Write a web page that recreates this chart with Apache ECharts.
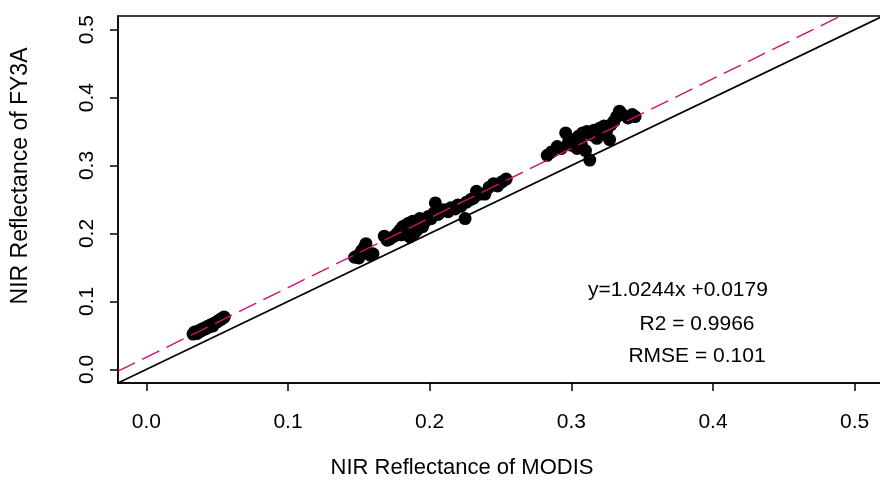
<!DOCTYPE html>
<html>
<head>
<meta charset="utf-8">
<script src="https://cdn.jsdelivr.net/npm/echarts@6/dist/echarts.min.js"></script>
<style>
  html, body { margin: 0; padding: 0; background: #fff; }
  #chart { width: 880px; height: 481px; }
</style>
</head>
<body>
<div id="chart"></div>
<script>
// NIR reflectance pairs: MODIS (x) against FY3A (y)
const modisNir = [
  0.033, 0.034, 0.036, 0.037, 0.038, 0.039, 0.040, 0.041, 0.042, 0.043, 0.044,
  0.045, 0.046, 0.047, 0.048, 0.049, 0.050, 0.051, 0.052, 0.053, 0.054, 0.055,
  0.147, 0.149, 0.150, 0.151, 0.152, 0.154, 0.155, 0.156, 0.158, 0.160,
  0.168, 0.170, 0.172, 0.175, 0.177, 0.179, 0.180, 0.181, 0.183, 0.184, 0.185,
  0.186, 0.187, 0.188, 0.189, 0.190, 0.191, 0.192, 0.193, 0.195, 0.197, 0.199,
  0.201, 0.203, 0.204, 0.206, 0.208, 0.210, 0.213, 0.215, 0.218, 0.220, 0.222,
  0.225, 0.226, 0.229, 0.231, 0.233, 0.236, 0.239, 0.242, 0.245, 0.248, 0.251, 0.254,
  0.283, 0.286, 0.290, 0.293, 0.296, 0.298, 0.300, 0.302, 0.304, 0.305, 0.307,
  0.308, 0.310, 0.311, 0.313, 0.314, 0.316, 0.318, 0.320, 0.322, 0.323, 0.325,
  0.327, 0.328, 0.330, 0.332, 0.334, 0.336, 0.340, 0.343, 0.345
];
const fy3aNir = [
  0.052, 0.055, 0.053, 0.057, 0.056, 0.059, 0.058, 0.061, 0.060, 0.063, 0.062,
  0.065, 0.066, 0.064, 0.068, 0.069, 0.070, 0.072, 0.073, 0.074, 0.076, 0.077,
  0.165, 0.167, 0.164, 0.170, 0.175, 0.180, 0.185, 0.172, 0.168, 0.170,
  0.196, 0.190, 0.192, 0.196, 0.200, 0.205, 0.198, 0.210, 0.212, 0.203, 0.215,
  0.195, 0.208, 0.218, 0.200, 0.212, 0.205, 0.215, 0.222, 0.210, 0.218, 0.225,
  0.222, 0.230, 0.245, 0.228, 0.233, 0.235, 0.232, 0.238, 0.236, 0.242, 0.240,
  0.222, 0.246, 0.250, 0.252, 0.262, 0.258, 0.258, 0.268, 0.273, 0.270, 0.276, 0.280,
  0.315, 0.320, 0.328, 0.325, 0.348, 0.335, 0.330, 0.338, 0.325, 0.343, 0.332,
  0.348, 0.322, 0.350, 0.308, 0.345, 0.352, 0.340, 0.355, 0.348, 0.358, 0.352,
  0.338, 0.360, 0.365, 0.372, 0.380, 0.375, 0.370, 0.375, 0.372
];

// Axis range and tick positions
const axisRange = [-0.02, 0.52];
const tickValues = [0.0, 0.1, 0.2, 0.3, 0.4, 0.5];

// Axis titles
const xTitle = 'NIR Reflectance of MODIS';
const yTitle = 'NIR Reflectance of FY3A';

// Fitted regression and the statistics printed on the plot
const fitSlope = 1.0244;
const fitIntercept = 0.0179;
const statLines = ['y=1.0244x +0.0179', 'R2 = 0.9966', 'RMSE = 0.101'];

const FONT = '"Liberation Sans", Arial, Helvetica, sans-serif';

const points = modisNir.map((x, i) => [x, fy3aNir[i]]);
const oneToOne = axisRange.map(v => [v, v]);
const fitLine = axisRange.map(v => [v, fitSlope * v + fitIntercept]);

function axisCommon(isY) {
  return {
    type: 'value',
    min: axisRange[0],
    max: axisRange[1],
    splitLine: { show: false },
    axisLine: { show: true, onZero: false, lineStyle: { color: '#000', width: 1.5 } },
    axisTick: {
      show: true, inside: false, length: 8,
      customValues: tickValues,
      lineStyle: { color: '#000', width: 1.5 }
    },
    axisLabel: {
      show: true,
      customValues: tickValues,
      formatter: v => v.toFixed(1),
      color: '#000',
      fontFamily: FONT,
      fontSize: 21,
      margin: isY ? 20 : 29,
      rotate: isY ? 90 : 0
    }
  };
}

function label(text, x, y, size, rotation) {
  return {
    type: 'text', x: x, y: y, rotation: rotation || 0,
    style: {
      text: text, fill: '#000', font: size + 'px ' + FONT,
      textAlign: 'center', textVerticalAlign: 'middle'
    }
  };
}

const chart = echarts.init(document.getElementById('chart'), null, { renderer: 'canvas' });

chart.setOption({
  animation: false,
  backgroundColor: '#fff',
  grid: {
    left: 118, top: 16, width: 765, height: 367,
    show: true, borderColor: '#000', borderWidth: 1.5,
    containLabel: false,
    outerBoundsMode: 'none'
  },
  xAxis: axisCommon(false),
  yAxis: axisCommon(true),
  series: [
    {
      type: 'scatter',
      data: points,
      symbol: 'circle',
      symbolSize: 13,
      itemStyle: { color: '#000', opacity: 1 },
      z: 2
    },
    {
      type: 'line',
      data: oneToOne,
      showSymbol: false,
      clip: true,
      lineStyle: { color: '#000', width: 1.7 },
      z: 3
    },
    {
      type: 'line',
      data: fitLine,
      showSymbol: false,
      clip: true,
      lineStyle: { color: '#CD1076', width: 1.4, type: [19, 8] },
      z: 4
    }
  ],
  graphic: [
    label(xTitle, 462, 468, 22),
    label(yTitle, 21, 176, 23, Math.PI / 2),
    label(statLines[0], 678, 290, 21),
    label(statLines[1], 697, 324, 21),
    label(statLines[2], 697, 356, 21)
  ]
});
</script>
</body>
</html>
